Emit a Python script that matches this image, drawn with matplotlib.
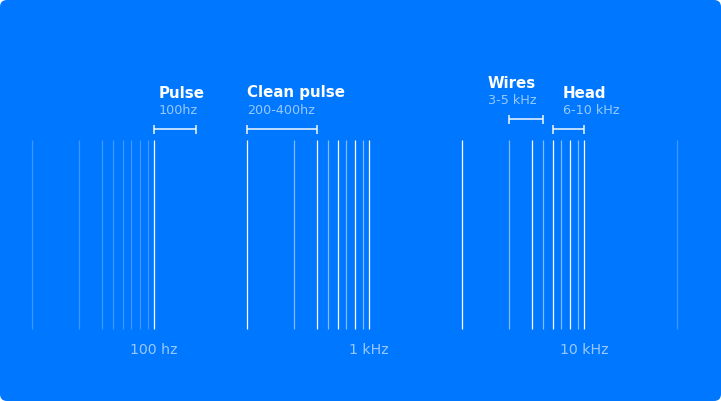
import numpy as np
import matplotlib
matplotlib.use("Agg")
import matplotlib.pyplot as plt
from matplotlib.patches import FancyBboxPatch
from matplotlib.transforms import IdentityTransform

# Daten: Gitterlinien (Hz)
frequenzen = [20, 30, 40, 50, 60, 70, 80, 90, 100,
              200, 300, 400, 500, 600, 700, 800, 900, 1000,
              2000, 3000, 4000, 5000, 6000, 7000, 8000, 9000, 10000,
              20000]

achsen_freq = [100, 1000, 10000]
achsen_text = ["100 hz", "1 kHz", "10 kHz"]

# Bereiche oben
bereich_titel = ["Pulse", "Clean pulse", "Wires", "Head"]
bereich_unter = ["100hz", "200-400hz", "3-5 kHz", "6-10 kHz"]
bereich_von = [100, 200, 3000, 6000]
bereich_bis = [137, 400, 5000, 10000]

# Stilisierte Log-Skala: Lage der Vielfachen innerhalb einer Dekade
dekade_k = np.array([1, 2, 3, 4, 5, 6, 7, 8, 9, 10])
dekade_anteil = np.array([0, 0.433, 0.649, 0.757, 0.811, 0.855, 0.895, 0.937, 0.972, 1.0])

logs, pos = [], []
for d in range(0, 7):
    for k, a in zip(dekade_k[:-1], dekade_anteil[:-1]):
        logs.append(np.log10(k) + d)
        pos.append(d + a)
logs = np.array(logs)
pos = np.array(pos)


def vorwaerts(f):
    f = np.clip(np.asarray(f, dtype=float), 1e-3, None)
    return np.interp(np.log10(f), logs, pos)


def rueckwaerts(p):
    return 10 ** np.interp(np.asarray(p, dtype=float), pos, logs)


BLAU = "#0077ff"
W, H = 721, 401

fig = plt.figure(figsize=(W / 100, H / 100), dpi=100)
fig.patch.set_facecolor("white")
hintergrund = FancyBboxPatch((0, 0), W, H, boxstyle="round,pad=0,rounding_size=7",
                             transform=IdentityTransform(), facecolor=BLAU,
                             edgecolor="none", zorder=0)
fig.add_artist(hintergrund)

ax = fig.add_axes([0, 0, 1, 1])
ax.set_facecolor("none")
ax.set_xscale("function", functions=(vorwaerts, rueckwaerts))
# 100 Hz bei x=154 px, 215 px pro Dekade
links = 2 - 154 / 215
rechts = 2 + (W - 154) / 215
ax.set_xlim(rueckwaerts(links), rueckwaerts(rechts))
ax.set_ylim(H, 0)
ax.axis("off")


def deckkraft(f):
    if f < 100 or f > 10000:
        return 0.24
    k = round(f / 10 ** np.floor(np.log10(f)))
    return 1.0 if (k == 1 or k % 2 == 0) else 0.5


for f in frequenzen:
    ax.vlines(f, 140, 329, color="white", alpha=deckkraft(f), linewidth=0.9)

# Achsenbeschriftung
for f, t in zip(achsen_freq, achsen_text):
    ax.text(f, 350, t, color="white", alpha=0.6, fontsize=10.2,
            ha="center", va="center", family="DejaVu Sans")

# Klammern und Beschriftung
klammer_y = [129, 129, 119, 129]
text_dx = [5, 0, -21, 10]
for titel, unter, von, bis, y, dx in zip(bereich_titel, bereich_unter, bereich_von,
                                          bereich_bis, klammer_y, text_dx):
    ax.plot([von, bis], [y, y], color="white", alpha=0.8, linewidth=1.3,
            solid_capstyle="butt")
    ax.vlines([von, bis], y - 4.5, y + 4.5, color="white", alpha=0.8, linewidth=1.3)
    ax.annotate(titel, xy=(von, y), xytext=(dx, 31.5), textcoords="offset pixels",
                color="white", fontsize=10.8, fontweight="bold", family="DejaVu Sans",
                ha="left", va="baseline")
    ax.annotate(unter, xy=(von, y), xytext=(dx, 15.5), textcoords="offset pixels",
                color="white", alpha=0.6, fontsize=9.2, family="DejaVu Sans",
                ha="left", va="baseline")

plt.savefig("out.png", dpi=100, facecolor="white")
